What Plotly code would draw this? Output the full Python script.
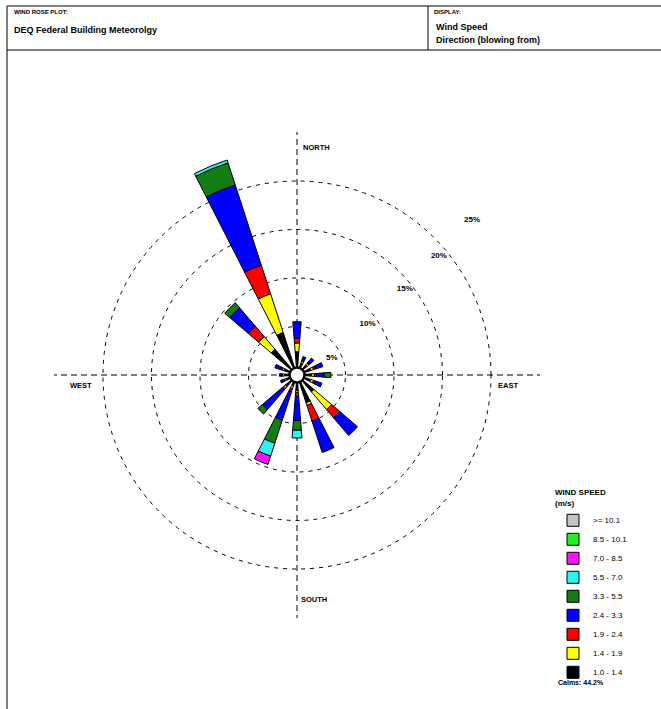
import plotly.graph_objects as go

# ---------------- data ----------------
directions = [0, 22.5, 45, 67.5, 90, 112.5, 135, 157.5,
              180, 202.5, 225, 247.5, 270, 292.5, 315, 337.5]

speed_bins = ["1.0 - 1.4", "1.4 - 1.9", "1.9 - 2.4", "2.4 - 3.3", "3.3 - 5.5",
              "5.5 - 7.0", "7.0 - 8.5", "8.5 - 10.1", ">= 10.1"]

# percent frequency per direction (N, NNE, ... NNW) for each speed bin
b_1_0_1_4 = [2.4, 1.3, 1.4, 1.5, 1.5, 1.5, 2.3, 3.0, 1.6, 1.2, 1.6, 1.2, 1.3, 1.4, 3.5, 4.6]
b_1_4_1_9 = [0.9, 0.2, 0.2, 0.3, 0.3, 0.3, 2.4, 0.3, 0.2, 0.3, 0.2, 0.2, 0.2, 0.2, 1.7, 4.2]
b_1_9_2_4 = [0.5, 0.1, 0.1, 0.2, 0.2, 0.2, 1.1, 1.7, 0.4, 0.3, 0.2, 0.1, 0.1, 0.2, 1.4, 3.1]
b_2_4_3_3 = [1.7, 0.4, 0.6, 0.8, 0.8, 0.7, 2.4, 3.4, 2.5, 3.1, 2.7, 0.3, 0.2, 0.6, 2.5, 8.7]
b_3_3_5_5 = [0.0, 0.0, 0.0, 0.0, 0.7, 0.0, 0.0, 0.0, 1.0, 2.5, 0.6, 0.0, 0.0, 0.0, 0.7, 2.4]
b_5_5_7_0 = [0.0, 0.0, 0.0, 0.0, 0.0, 0.0, 0.0, 0.0, 0.8, 1.4, 0.0, 0.0, 0.0, 0.0, 0.0, 0.3]
b_7_0_8_5 = [0.0, 0.0, 0.0, 0.0, 0.0, 0.0, 0.0, 0.0, 0.0, 0.9, 0.0, 0.0, 0.0, 0.0, 0.0, 0.0]
b_8_5_10_1 = [0.0] * 16
b_ge_10_1 = [0.0] * 16

bin_values = [b_1_0_1_4, b_1_4_1_9, b_1_9_2_4, b_2_4_3_3, b_3_3_5_5,
              b_5_5_7_0, b_7_0_8_5, b_8_5_10_1, b_ge_10_1]

bin_colors = ["#000000", "#ffff00", "#ff0000", "#0000ff", "#137d13",
              "#33f0f0", "#ff10ff", "#22ee22", "#c4c4c4"]

ring_values = [5, 10, 15, 20, 25]
ring_labels = ["5%", "10%", "15%", "20%", "25%"]
calms_pct = 44.2

# ---------------- figure ----------------
W, H = 661, 709
cx, cy, R = 297, 375, 243   # circle centre / radius in pixels

FONT = "Liberation Sans"

fig = go.Figure()
for name, vals, col in zip(speed_bins, bin_values, bin_colors):
    fig.add_trace(go.Barpolar(
        r=[v if v > 0 else None for v in vals],
        theta=directions,
        width=9,
        name=name,
        marker=dict(color=col, line=dict(color="#000000", width=1)),
        hoverinfo="skip",
    ))

# calm circle in the centre
fig.add_trace(go.Scatterpolar(
    r=[0], theta=[0], mode="markers",
    marker=dict(size=15, color="white", line=dict(color="black", width=2.5)),
    showlegend=False, hoverinfo="skip",
))

# ring percentage labels
ring_label_r = [4.0, 9.0, 14.2, 19.1, 24.1]
ring_label_theta = [64, 54, 51.5, 50, 48.5]
fig.add_trace(go.Scatterpolar(
    r=ring_label_r, theta=ring_label_theta, mode="text",
    text=["<b>%s</b>" % t for t in ring_labels],
    textfont=dict(family=FONT, size=8, color="black"),
    showlegend=False, hoverinfo="skip",
))

dash_ring = "4px,5px"
fig.update_layout(
    width=W, height=H,
    margin=dict(l=0, r=0, t=0, b=0),
    paper_bgcolor="white",
    barmode="stack",
    polar=dict(
        domain=dict(x=[(cx - R) / W, (cx + R) / W],
                    y=[1 - (cy + R) / H, 1 - (cy - R) / H]),
        bgcolor="white",
        angularaxis=dict(rotation=90, direction="clockwise",
                         tickvals=[0, 90, 180, 270], showticklabels=False,
                         ticks="", showline=False, showgrid=True,
                         gridcolor="black", gridwidth=1, griddash="6px,4px"),
        radialaxis=dict(range=[0, 25.05], tickvals=ring_values,
                        showticklabels=False, ticks="", showline=False,
                        showgrid=True, gridcolor="black", gridwidth=1,
                        griddash=dash_ring),
    ),
    showlegend=True,
    legend=dict(
        x=553 / W, y=1 - 485 / H, xanchor="left", yanchor="top",
        traceorder="reversed",
        title=dict(text="<b>WIND SPEED</b><br><b>(m/s)</b>",
                   font=dict(family=FONT, size=8, color="black")),
        font=dict(family=FONT, size=8, color="black"),
        bgcolor="rgba(0,0,0,0)", tracegroupgap=0,
        itemwidth=30,
    ),
)

# direction labels
for txt, px, py in [("NORTH", 316, 141), ("EAST", 520, 385),
                    ("SOUTH", 314, 606), ("WEST", 68, 385)]:
    fig.add_annotation(x=px / W, y=1 - py / H, xref="paper", yref="paper",
                       text="<b>%s</b>" % txt, showarrow=False,
                       font=dict(family=FONT, size=7.5, color="black"))

# calms note
fig.add_annotation(x=556 / W, y=1 - 688 / H, xref="paper", yref="paper",
                   xanchor="left", text=f"<b>Calms: {calms_pct}%</b>",
                   showarrow=False, font=dict(family=FONT, size=7, color="black"))

# header texts
hdr = [("<b>WIND ROSE PLOT:</b>", 12, 12, 6),
       ("<b>DEQ Federal Building Meteorolgy</b>", 12, 30, 9),
       ("<b>DISPLAY:</b>", 432, 12, 6),
       ("<b>Wind Speed</b>", 434, 27, 9),
       ("<b>Direction (blowing from)</b>", 434, 40, 9)]
for txt, px, py, fs in hdr:
    fig.add_annotation(x=px / W, y=1 - py / H, xref="paper", yref="paper",
                       xanchor="left", yanchor="middle", text=txt,
                       showarrow=False,
                       font=dict(family=FONT, size=fs, color="black"))

# frame lines
line = dict(color="black", width=1)
for x0, y0, x1, y1 in [(7, 6, 661, 6), (7, 6, 7, 709), (7, 50, 661, 50),
                       (428, 6, 428, 50)]:
    fig.add_shape(type="line", xref="paper", yref="paper",
                  x0=x0 / W, y0=1 - y0 / H, x1=x1 / W, y1=1 - y1 / H, line=line)

fig.write_html("out.html",
               config={"displayModeBar": False},
               post_script="document.body.style.margin='0';"
                           "document.body.style.overflow='hidden';")
